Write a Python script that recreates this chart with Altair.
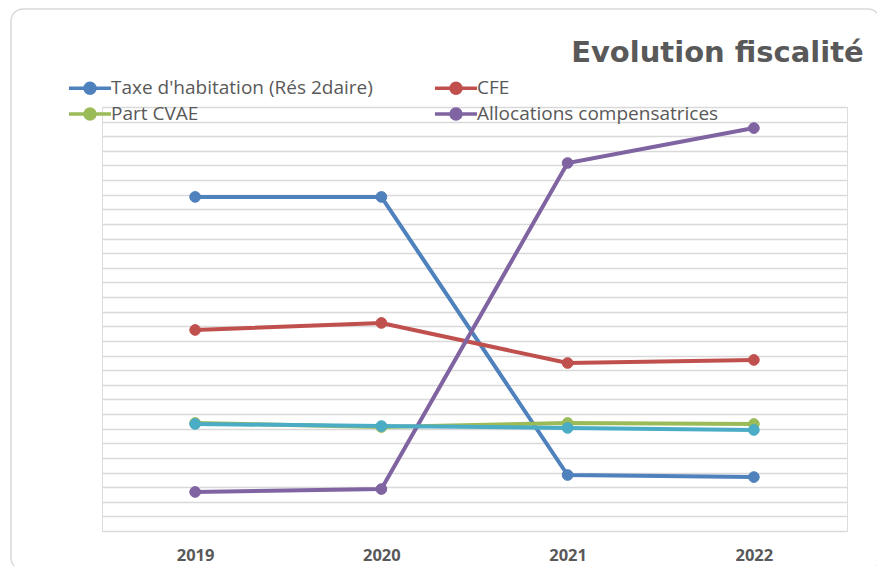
import altair as alt
import pandas as pd

years = ["2019", "2020", "2021", "2022"]
series_names = [
    "Taxe d'habitation (Rés 2daire)",
    "CFE",
    "Part CVAE",
    "Allocations compensatrices",
    "Autres",
]
legend_names = series_names[:4]
taxe = [22.85, 22.85, 3.83, 3.69]
cfe = [13.75, 14.23, 11.49, 11.70]
cvae = [7.39, 7.11, 7.39, 7.32]
alloc = [2.67, 2.87, 25.17, 27.56]
autres = [7.32, 7.18, 7.05, 6.91]
colors = ["#4f81bd", "#c0504d", "#9bbb59", "#8064a2", "#4bacc6"]

rows = []
for i, (name, vals) in enumerate(zip(series_names, [taxe, cfe, cvae, alloc, autres])):
    for y, v in zip(years, vals):
        rows.append({"annee": y, "serie": name, "valeur": v, "ordre": i})
df = pd.DataFrame(rows)

FONT = "Open Sans"
GREY = "#595959"
# legend glyph: a line with a dot, wider than the symbol box
sym_path = "M-1.83,0L1.83,0M-0.43,0A0.43,0.43,0,1,1,0.43,0A0.43,0.43,0,1,1,-0.43,0Z"

leg = alt.Legend(
    title=None, values=legend_names, orient="none",
    legendX=-25.5, legendY=-32.5, columns=2, direction="horizontal",
    columnPadding=54, rowPadding=-9, labelLimit=500,
    symbolType=sym_path, symbolSize=529, symbolStrokeWidth=3.5,
    labelFont=FONT, labelFontSize=19, labelColor=GREY, labelOffset=7.5)

x_enc = alt.X("annee:O", scale=alt.Scale(type="point", padding=0.5),
              axis=alt.Axis(title=None, labelAngle=0, labelFontWeight="bold",
                            labelFontSize=16.5, labelColor=GREY, labelFont=FONT,
                            domain=False, ticks=False, labelPadding=16))
y_enc = alt.Y("valeur:Q", scale=alt.Scale(domain=[0, 29], nice=False, zero=True),
              axis=alt.Axis(title=None, labels=False, ticks=False, domain=False,
                            values=list(range(0, 30)), grid=True,
                            gridColor="#d9d9d9", gridWidth=1.5))
scale = alt.Scale(domain=series_names, range=colors)

base = alt.Chart(df)
lines = base.mark_line(strokeWidth=4).encode(
    x=x_enc, y=y_enc,
    stroke=alt.Stroke("serie:N", sort=series_names, scale=scale, legend=leg),
    order=alt.Order("annee:O"))
points = base.mark_point(size=115, opacity=1, filled=False, strokeWidth=1).encode(
    x=x_enc, y=y_enc,
    fill=alt.Fill("serie:N", sort=series_names, scale=scale, legend=leg),
    stroke=alt.Stroke("serie:N", sort=series_names, scale=scale, legend=leg),
    order=alt.Order("ordre:Q"))

border = alt.Chart(pd.DataFrame({"a": [0]})).mark_rect(
    fill=None, stroke="#d9d9d9", strokeWidth=1.5, cornerRadius=12
).encode(x=alt.value(-91), x2=alt.value(778), y=alt.value(-98), y2=alt.value(463))

chart = alt.layer(border, lines, points).properties(
    width=745, height=424,
    title=alt.TitleParams("Evolution fiscalité", anchor="end", fontSize=29,
                          fontWeight="bold", color=GREY, font="DejaVu Sans", dx=-17,
                          offset=0, dy=60),
    autosize=alt.AutoSizeParams(type="none"),
    padding={"left": 94, "top": 99, "right": 30, "bottom": 35},
).configure_view(stroke=None).configure(background="white")

chart.save("out.html", embed_options={"renderer": "svg", "actions": False})
